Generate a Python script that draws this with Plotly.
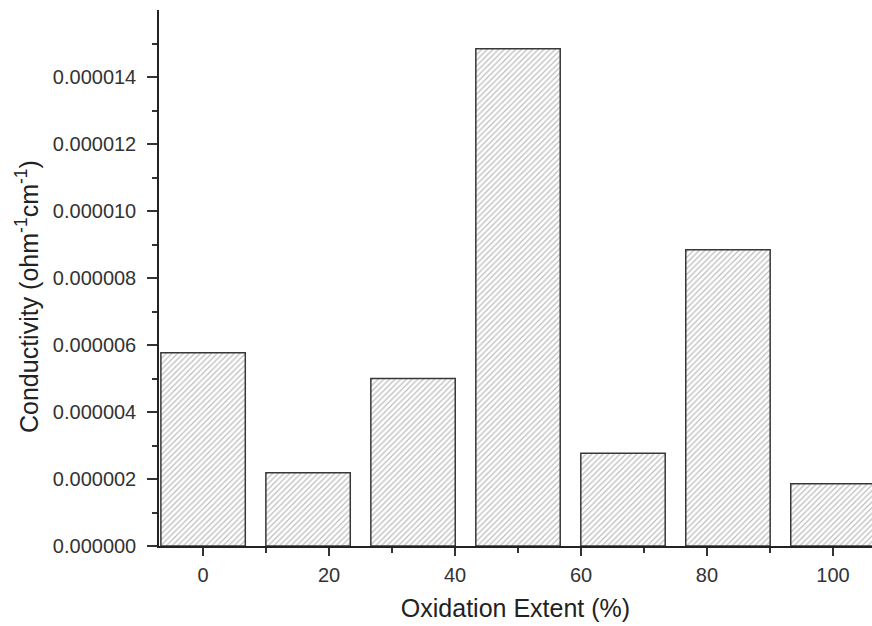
import plotly.graph_objects as go

oxidation = [0, 100/6, 200/6, 50, 400/6, 500/6, 100]
conductivity = [5.77e-6, 2.19e-6, 5.00e-6, 1.484e-5, 2.77e-6, 8.84e-6, 1.86e-6]
y_ticks = [0, 2e-6, 4e-6, 6e-6, 8e-6, 1e-5, 1.2e-5, 1.4e-5]
y_minor = [1e-6, 3e-6, 5e-6, 7e-6, 9e-6, 1.1e-5, 1.3e-5, 1.5e-5]
x_ticks = [0, 20, 40, 60, 80, 100]
x_minor = [10, 30, 50, 70, 90]

fig = go.Figure()
fig.add_trace(go.Bar(
    x=oxidation, y=conductivity, width=13.4,
    marker=dict(color="white",
                line=dict(color="#383838", width=1.5),
                pattern=dict(shape="/", fgcolor="#7a7a7a", bgcolor="white",
                             size=4, solidity=0.3)),
))

font = "Liberation Sans, Arial, sans-serif"
fig.update_layout(
    width=872, height=626,
    margin=dict(l=159, r=0, t=10, b=80),
    plot_bgcolor="white", paper_bgcolor="white",
    showlegend=False,
    font=dict(family=font, color="#333333"),
    xaxis=dict(range=[-7, 106.2], tickvals=x_ticks, ticks="outside", ticklen=8,
               tickwidth=1.5, tickcolor="#333333",
               showline=True, linecolor="#222222", linewidth=1.5,
               showgrid=False, zeroline=False, ticklabelstandoff=2,
               tickfont=dict(size=20, color="#333333"),
               minor=dict(tickvals=x_minor, ticks="outside", ticklen=5,
                          tickwidth=1.5, tickcolor="#333333"),
               title=dict(text="Oxidation Extent (%)",
                          font=dict(size=25, color="#222222"), standoff=15)),
    yaxis=dict(range=[0, 1.6e-5], tickvals=y_ticks, tickformat=".6f",
               ticks="outside", ticklen=10, tickwidth=1.5, tickcolor="#333333",
               showline=True, linecolor="#222222", linewidth=1.5,
               showgrid=False, zeroline=False, ticklabelstandoff=7,
               tickfont=dict(size=20, color="#333333"),
               minor=dict(tickvals=y_minor, ticks="outside", ticklen=5,
                          tickwidth=1.5, tickcolor="#333333")),
    annotations=[dict(text="Conductivity (ohm<sup>-1</sup>cm<sup>-1</sup>)",
                      textangle=-90, xref="paper", yref="paper",
                      x=0, xshift=27 - 159, y=(546 - 297) / 536,
                      xanchor="center", yanchor="middle", showarrow=False,
                      font=dict(size=25, color="#222222"))],
)

fig.write_html("out.html")
